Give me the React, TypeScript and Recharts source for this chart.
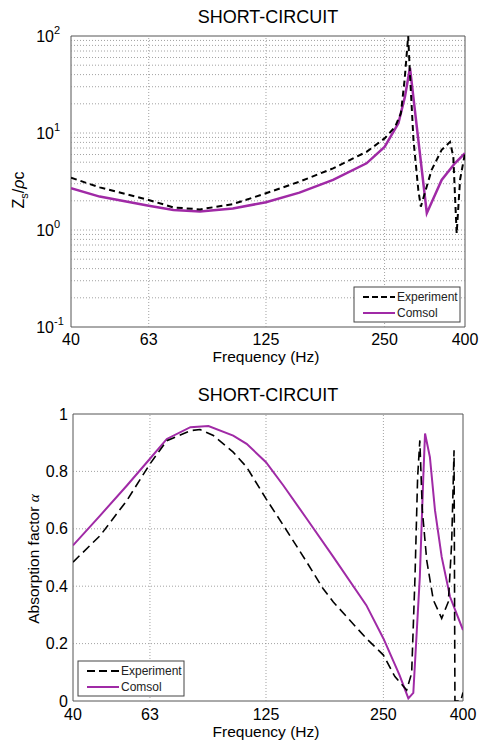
import React from 'react';
import { LineChart, Line, XAxis, YAxis, ReferenceLine, ReferenceArea } from 'recharts';

const FONT = '"Liberation Sans", Arial, Helvetica, sans-serif';
const PURPLE = '#a02aa6';
const W = 479;
const H = 372;

// frequency axis, shared by both panels
const freqTicks = [40, 63, 125, 250, 400];
const freqGrid = [63, 125, 250];

// panel 1: normalised surface impedance Zs/rho c
const zFreqExp = [40, 47.3, 63, 72.8, 85, 103, 125, 152, 185, 225, 250, 266, 275, 281, 287, 290, 296, 304.5, 309, 329, 349, 366.5, 373.6, 377.4, 381, 388.6, 400];
const zExp = [3.46, 2.75, 2.04, 1.71, 1.63, 1.85, 2.39, 3.15, 4.32, 6.4, 8.8, 11.6, 16, 35, 100, 40, 8.5, 2.58, 1.74, 4.15, 6.7, 8.1, 5.7, 2.2, 0.92, 3.3, 6.2];
const zFreqCom = [40, 47.3, 63, 72.8, 85, 103, 125, 152, 185, 225, 250, 271, 281.6, 290, 320, 349, 377, 400];
const zCom = [2.69, 2.21, 1.78, 1.61, 1.55, 1.67, 1.93, 2.43, 3.28, 4.87, 7.2, 12.6, 23.7, 47, 1.49, 3.28, 4.87, 6.2];
const zTicks = [0.1, 1, 10, 100];
const zGrid = [0.1, 1, 10].flatMap((d) => [1, 2, 3, 4, 5, 6, 7, 8, 9].map((k) => k * d)).filter((v) => v > 0.1);

// panel 2: absorption factor alpha
const aFreqExp = [40, 47, 55, 63, 69.6, 80, 84.7, 91.6, 103, 111.5, 125, 138.5, 159, 175, 186, 226, 250, 267.6, 286.8, 295.4, 301.3, 306, 310, 314.6, 322.9, 335.7, 352.7, 366.9, 374.1, 379.4, 381.4, 394.7, 400];
const aExp = [0.484, 0.577, 0.699, 0.826, 0.907, 0.942, 0.946, 0.925, 0.867, 0.815, 0.705, 0.612, 0.484, 0.392, 0.345, 0.218, 0.16, 0.085, 0.038, 0.097, 0.433, 0.78, 0.908, 0.665, 0.49, 0.352, 0.288, 0.346, 0.55, 0.874, 0, 0, 0.03];
const aFreqCom = [40, 47, 55, 63, 69.6, 80, 89, 103, 111.5, 125, 138.5, 159, 186, 226, 250, 275, 289.7, 298.3, 310, 316.4, 319.7, 329, 339, 352.7, 370.5, 400];
const aCom = [0.542, 0.647, 0.751, 0.844, 0.913, 0.954, 0.958, 0.925, 0.896, 0.832, 0.751, 0.635, 0.502, 0.334, 0.218, 0.09, 0.009, 0.028, 0.433, 0.78, 0.932, 0.85, 0.665, 0.502, 0.363, 0.247];
const aTicks = [0, 0.2, 0.4, 0.6, 0.8, 1];
const aGrid = [0.2, 0.4, 0.6, 0.8];

const zip = (f: number[], v: number[]) => f.map((x, i) => ({ f: x, v: v[i] }));

const tickStyle = { fontSize: 16, fill: '#000', fontFamily: FONT };
const gridStroke = '#8a8a8a';

const PowTick = (props: any) => {
  const { x, y, payload } = props;
  const exp = Math.round(Math.log10(payload.value));
  return (
    <g fontFamily={FONT} fill="#000">
      <text x={x - 9} y={y + 6} textAnchor="end" fontSize={16}>10</text>
      <text x={x - 9} y={y - 2} textAnchor="start" fontSize={11}>{exp}</text>
    </g>
  );
};

const LegendBox = ({ left, top, dash }: { left: number; top: number; dash: string }) => (
  <g fontFamily={FONT} fontSize={12} fill="#222">
    <rect x={left} y={top} width={106} height={35} fill="#fff" stroke="#444" strokeWidth={1} />
    <line x1={left + 9} x2={left + 41} y1={top + 10} y2={top + 10} stroke="#000" strokeWidth={2} strokeDasharray={dash} />
    <line x1={left + 9} x2={left + 41} y1={top + 26} y2={top + 26} stroke={PURPLE} strokeWidth={2} />
    <text x={left + 43} y={top + 14}>Experiment</text>
    <text x={left + 43} y={top + 30}>Comsol</text>
  </g>
);

const ImpedancePanel = () => (
  <div style={{ position: 'relative', width: W, height: H }}>
    <LineChart width={W} height={H} margin={{ top: 36, right: 14, bottom: 0, left: 0 }}>
      <XAxis dataKey="f" type="number" scale="log" domain={[40, 400]} allowDataOverflow ticks={freqTicks}
        tick={tickStyle} tickLine={false} axisLine={false} height={45} tickSize={6} tickMargin={1} />
      <YAxis type="number" scale="log" domain={[0.1, 100]} allowDataOverflow ticks={zTicks}
        tick={<PowTick />} tickLine={false} axisLine={false} width={71} />
      {zGrid.map((v) => (
        <ReferenceLine key={'h' + v} y={v} stroke={gridStroke} strokeDasharray="1 2" strokeWidth={0.8} />
      ))}
      {freqGrid.map((f) => (
        <ReferenceLine key={'v' + f} x={f} stroke={gridStroke} strokeDasharray="1 2" strokeWidth={0.8} />
      ))}
      <ReferenceArea x1={40} x2={400} y1={0.1} y2={100} fill="none" stroke="#555" strokeWidth={1} />
      <Line data={zip(zFreqCom, zCom)} dataKey="v" type="linear" stroke={PURPLE} strokeWidth={2.5} dot={false} isAnimationActive={false} />
      <Line data={zip(zFreqExp, zExp)} dataKey="v" type="linear" stroke="#000" strokeWidth={2} strokeDasharray="6 4" dot={false} isAnimationActive={false} />
    </LineChart>
    <svg width={W} height={H} style={{ position: 'absolute', left: 0, top: 0, pointerEvents: 'none' }}>
      <text x={268} y={23} textAnchor="middle" fontFamily={FONT} fontSize={18}>SHORT-CIRCUIT</text>
      <text x={266} y={362} textAnchor="middle" fontFamily={FONT} fontSize={15.5}>Frequency (Hz)</text>
      <text transform="rotate(-90)" x={-190} y={24} textAnchor="middle" fontFamily={FONT} fontSize={16}>
        Z<tspan fontSize={11} dy={4}>s</tspan><tspan dy={-4}>/</tspan><tspan fontStyle="italic">ρ</tspan>c
      </text>
      <LegendBox left={354} top={287} dash="6 3" />
    </svg>
  </div>
);

const AbsorptionPanel = () => (
  <div style={{ position: 'relative', width: W, height: H }}>
    <LineChart width={W} height={H} margin={{ top: 42, right: 16, bottom: 0, left: 0 }}>
      <XAxis dataKey="f" type="number" scale="log" domain={[40, 400]} allowDataOverflow ticks={freqTicks}
        tick={tickStyle} tickLine={false} axisLine={false} height={43} tickSize={6} tickMargin={2} />
      <YAxis type="number" domain={[0, 1]} allowDataOverflow ticks={aTicks}
        tick={tickStyle} tickLine={false} axisLine={false} width={73} tickSize={3} tickMargin={2} />
      {aGrid.map((v) => (
        <ReferenceLine key={'h' + v} y={v} stroke={gridStroke} strokeDasharray="1 2" strokeWidth={0.8} />
      ))}
      {freqGrid.map((f) => (
        <ReferenceLine key={'v' + f} x={f} stroke={gridStroke} strokeDasharray="1 2" strokeWidth={0.8} />
      ))}
      <ReferenceArea x1={40} x2={400} y1={0} y2={1} fill="none" stroke="#555" strokeWidth={1} />
      <Line data={zip(aFreqCom, aCom)} dataKey="v" type="linear" stroke={PURPLE} strokeWidth={2} dot={false} isAnimationActive={false} />
      <Line data={zip(aFreqExp, aExp)} dataKey="v" type="linear" stroke="#000" strokeWidth={1.6} strokeDasharray="9 5" dot={false} isAnimationActive={false} />
    </LineChart>
    <svg width={W} height={H} style={{ position: 'absolute', left: 0, top: 0, pointerEvents: 'none' }}>
      <text x={268} y={29} textAnchor="middle" fontFamily={FONT} fontSize={18}>SHORT-CIRCUIT</text>
      <text x={266} y={365} textAnchor="middle" fontFamily={FONT} fontSize={15.5}>Frequency (Hz)</text>
      <text transform="rotate(-90)" x={-187} y={39} textAnchor="middle" fontFamily={FONT} fontSize={15.5}>
        Absorption factor <tspan fontStyle="italic" fontFamily="serif">α</tspan>
      </text>
      <LegendBox left={78} top={289} dash="8 4" />
    </svg>
  </div>
);

export default function App() {
  return (
    <div style={{ position: 'absolute', left: 0, top: 0, width: W, height: 744, background: '#fff' }}>
      <ImpedancePanel />
      <AbsorptionPanel />
    </div>
  );
}
